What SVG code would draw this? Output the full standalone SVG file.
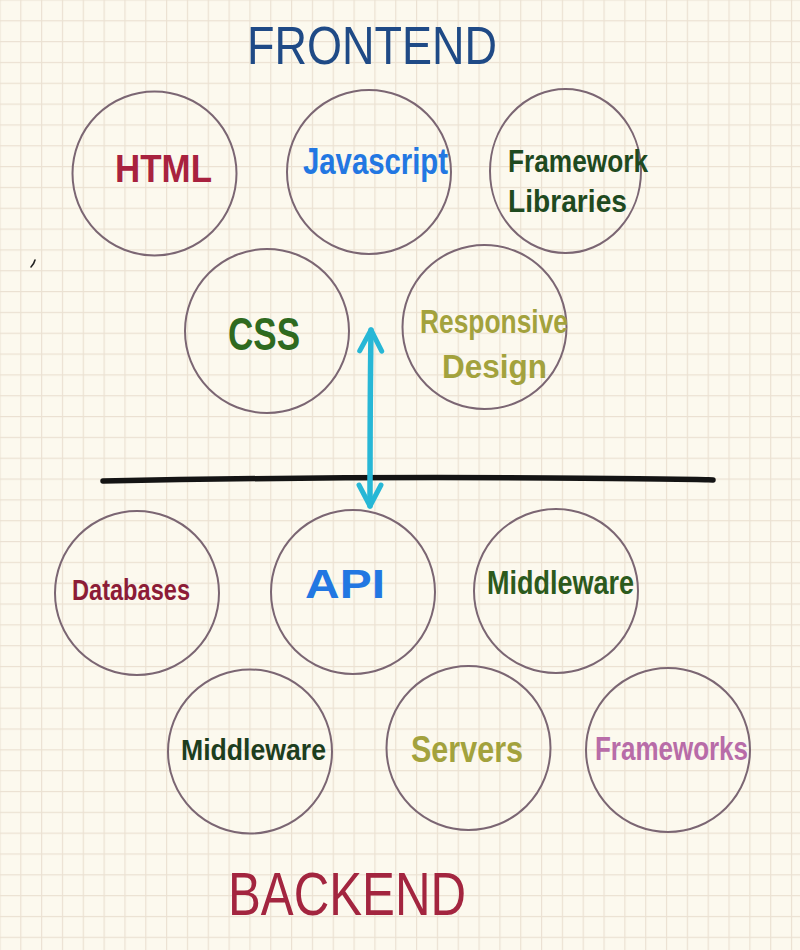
<svg xmlns="http://www.w3.org/2000/svg" width="800" height="950" viewBox="0 0 800 950">
<style>
.node circle, .node ellipse{fill:none;stroke:#7b6673;stroke-width:2}
.lbl{font-family:"Liberation Sans","DejaVu Sans",sans-serif;font-weight:bold}
.title{font-family:"Liberation Sans","DejaVu Sans",sans-serif;font-weight:normal}
.red{fill:#a8223f}
.blue{fill:#2277e2}
.dgreen{fill:#1f4a1f}
.green{fill:#2f6a1f}
.olive{fill:#a3a23d}
.pink{fill:#b86ca8}
</style>
<defs>
<pattern id="grid" patternUnits="userSpaceOnUse" x="-0.6" y="-0.6" width="20.83" height="20.83">
<rect width="1.2" height="20.83" fill="#ebe1d2"/>
<rect width="20.83" height="1.2" fill="#ebe1d2"/>
</pattern>
<marker id="chev" markerUnits="userSpaceOnUse" refX="0" refY="0" markerWidth="30" markerHeight="30" orient="auto-start-reverse" overflow="visible">
<path d="M -21 -11 L 0 0 L -21 11" fill="none" stroke="#27b7d6" stroke-width="5" stroke-linecap="round" stroke-linejoin="round"/>
</marker>
</defs>
<rect width="800" height="950" fill="#fcf9ee"/>
<rect width="800" height="950" fill="url(#grid)"/>

<text class="title" x="247" y="64" font-size="54" textLength="250" lengthAdjust="spacingAndGlyphs" fill="#1f4a86">FRONTEND</text>
<text class="title" x="228" y="915" font-size="62" textLength="238" lengthAdjust="spacingAndGlyphs" fill="#a3253f">BACKEND</text>

<g id="html" class="node"><circle cx="154.5" cy="173.5" r="82"/><text class="lbl red" x="115" y="182" font-size="38" textLength="97" lengthAdjust="spacingAndGlyphs">HTML</text></g>
<g id="javascript" class="node"><circle cx="369" cy="172" r="82"/><text class="lbl blue" x="303" y="174" font-size="36" textLength="145" lengthAdjust="spacingAndGlyphs">Javascript</text></g>
<g id="framework-libraries" class="node"><ellipse cx="565.5" cy="171" rx="75.5" ry="82"/><text class="lbl dgreen" x="508" y="172" font-size="32" textLength="140" lengthAdjust="spacingAndGlyphs">Framework</text><text class="lbl dgreen" x="508" y="212" font-size="32" textLength="119" lengthAdjust="spacingAndGlyphs">Libraries</text></g>
<g id="css" class="node"><circle cx="267" cy="331" r="82"/><text class="lbl green" x="228" y="350" font-size="46" textLength="72" lengthAdjust="spacingAndGlyphs">CSS</text></g>
<g id="responsive-design" class="node"><circle cx="484.5" cy="327" r="82"/><text class="lbl olive" x="420" y="333" font-size="34" textLength="148" lengthAdjust="spacingAndGlyphs">Responsive</text><text class="lbl olive" x="442" y="378" font-size="34" textLength="105" lengthAdjust="spacingAndGlyphs">Design</text></g>

<g id="databases" class="node"><circle cx="137" cy="593" r="82"/><text class="lbl" fill="#8c1c37" x="72" y="600" font-size="30" textLength="118" lengthAdjust="spacingAndGlyphs">Databases</text></g>
<g id="api" class="node"><circle cx="353" cy="592" r="82"/><text class="lbl blue" x="305" y="598" font-size="40" textLength="80" lengthAdjust="spacingAndGlyphs">API</text></g>
<g id="middleware-1" class="node"><circle cx="556" cy="591" r="82"/><text class="lbl" fill="#2c5a1c" x="487" y="594" font-size="34" textLength="147" lengthAdjust="spacingAndGlyphs">Middleware</text></g>
<g id="middleware-2" class="node"><circle cx="250" cy="751.5" r="82"/><text class="lbl" fill="#1d3e1e" x="181" y="760" font-size="30" textLength="145" lengthAdjust="spacingAndGlyphs">Middleware</text></g>
<g id="servers" class="node"><circle cx="468.5" cy="748" r="82"/><text class="lbl olive" x="411" y="762" font-size="36" textLength="112" lengthAdjust="spacingAndGlyphs">Servers</text></g>
<g id="frameworks" class="node"><circle cx="668" cy="750" r="82"/><text class="lbl pink" x="595" y="760" font-size="34" textLength="153" lengthAdjust="spacingAndGlyphs">Frameworks</text></g>

<path d="M 103 481 C 250 478, 400 477, 550 478 S 690 479, 713 480" fill="none" stroke="#141414" stroke-width="5.5" stroke-linecap="round"/>
<path d="M 35 260 Q 34 264 31 267" fill="none" stroke="#222" stroke-width="1.6" stroke-linecap="round"/>

<g id="connectors">
<path d="M 371 330 C 370 400, 370 450, 370 506" fill="none" stroke="#27b7d6" stroke-width="5.5" stroke-linecap="round" marker-start="url(#chev)" marker-end="url(#chev)"/>
</g>
</svg>
